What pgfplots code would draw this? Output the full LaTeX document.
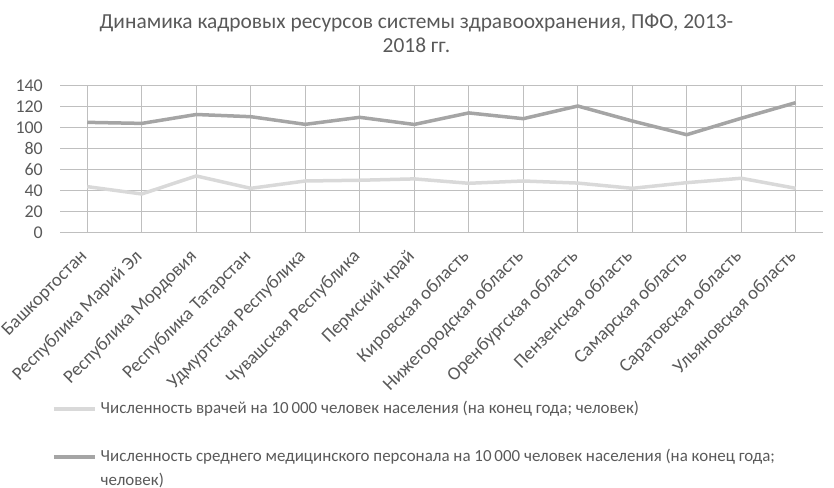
\documentclass[border=0pt]{standalone}
\usepackage{fontspec}
\setmainfont{Carlito}
\usepackage{pgfplots}
\pgfplotsset{compat=1.18}
\definecolor{txt}{HTML}{595959}
\definecolor{grid}{HTML}{D9D9D9}
\definecolor{darkl}{HTML}{A5A5A5}
\definecolor{lightl}{HTML}{D9D9D9}
\begin{document}
\begin{tikzpicture}
\useasboundingbox (0,0) rectangle (834bp,488bp);
\begin{axis}[
  at={(60bp,255.7bp)}, anchor=south west,
  scale only axis, width=763bp, height=146.6bp,
  xmin=-0.5, xmax=13.5, ymin=0, ymax=140,
  ytick={0,20,...,140},
  xtick={0,...,13},
  xticklabels={Башкортостан, Республика Марий Эл, Республика Мордовия, Республика Татарстан, Удмуртская Республика, Чувашская Республика, Пермский край, Кировская область, Нижегородская область, Оренбургская область, Пензенская область, Самарская область, Саратовская область, Ульяновская область},
  axis line style={draw=none},
  tick style={draw=none},
  ymajorgrids, major grid style={grid, line width=1.3bp},
  /pgf/number format/assume math mode=true,
  yticklabel style={font=\fontsize{18}{20}\selectfont, text=txt, inner sep=0pt, anchor=east, xshift=-17bp},
  xticklabel style={font=\fontsize{18.8}{20}\selectfont, text=txt, xshift=-8bp, yshift=-16bp, rotate=45, anchor=north east, inner sep=0pt},
  title={Динамика кадровых ресурсов системы здравоохранения, ПФО, 2013-\\2018 гг.},
  title style={font=\fontsize{21.5}{23.5}\selectfont, text=txt, align=center, at={(axis description cs:0.4672,1.315)}, anchor=center, inner sep=0pt},
  legend style={draw=none, fill=none, at={(axis description cs:-0.0105,-1.1508)}, anchor=north west, inner sep=0pt,
    nodes={inner sep=0pt, text height=12bp, text depth=4bp, text=txt, font=\fontsize{17}{19}\selectfont},
    row sep=8bp, column sep=4bp},
  legend cell align=left,
  legend image code/.code={\draw[#1] (0bp,0bp) -- (41bp,0bp);},
]
\addplot[lightl, line width=3.5bp] coordinates {
(0,43.6) (1,36.6) (2,53.8) (3,42) (4,49) (5,49.7) (6,51) (7,46.8) (8,49) (9,47) (10,42) (11,47.4) (12,51.6) (13,42)};
\addlegendentry{Численность врачей на 10\,000 человек населения (на конец года; человек)}
\addlegendimage{empty legend}
\addlegendentry{}
\addplot[darkl, line width=3.5bp] coordinates {
(0,105) (1,104) (2,112.5) (3,110.4) (4,103.1) (5,109.8) (6,103) (7,114) (8,108.5) (9,120.6) (10,106.3) (11,93.2) (12,108.9) (13,123.8)};
\addlegendentry{Численность среднего медицинского персонала на 10\,000 человек населения (на конец года;}
\addlegendimage{empty legend}
\addlegendentry{человек)}
\end{axis}
\end{tikzpicture}
\end{document}
